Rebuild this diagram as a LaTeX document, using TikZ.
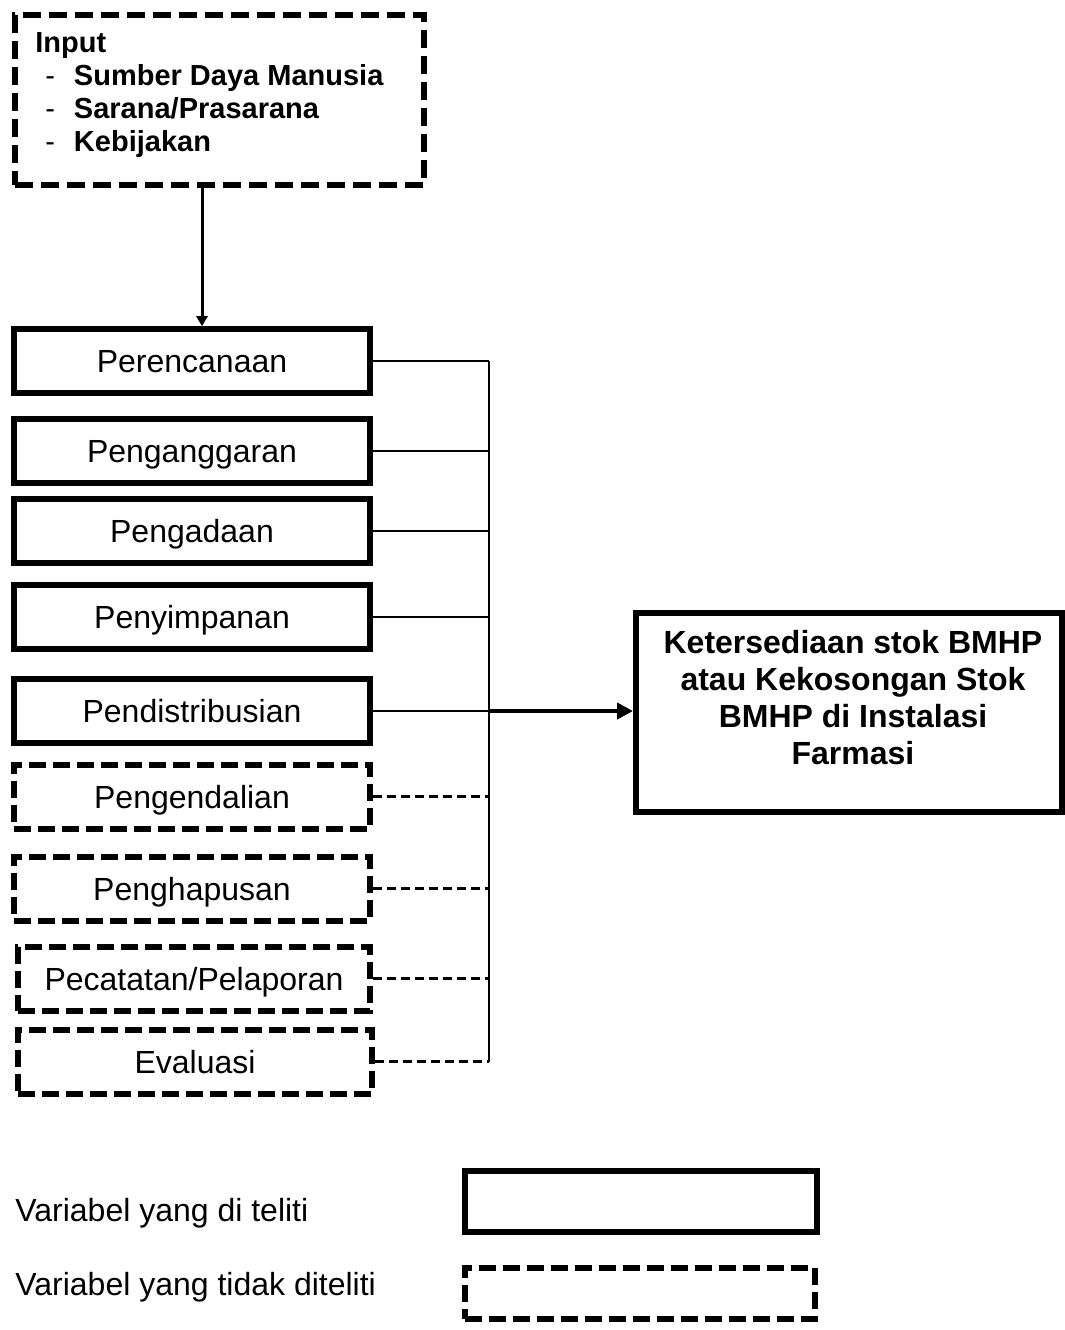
\documentclass[tikz,border=0pt]{standalone}
\usepackage{fontspec}
\setmainfont{Liberation Sans}
\usetikzlibrary{positioning,arrows.meta}

\begin{document}
\begin{tikzpicture}[
            x=0.5pt, y=-0.5pt,
            block/.style={draw, line width=2.8pt, minimum width=178pt, minimum height=32pt, inner sep=0pt,
                          text height=11.5pt, text depth=0pt, font=\fontsize{16}{18}\selectfont},
            dashblock/.style={block, line width=3pt, dash pattern=on 8.5pt off 3.5pt},
            inputbox/.style={draw, line width=3pt, dash pattern=on 9pt off 4pt, minimum width=204.5pt, minimum height=85pt, inner sep=0pt},
            link/.style={line width=1.4pt},
            dashlink/.style={line width=1.5pt, dash pattern=on 4.5pt off 2.5pt},
            arrow/.style={line width=1.5pt, -{Triangle[length=5pt, width=5.5pt]}},
            bigarrow/.style={line width=2.2pt, -{Triangle[length=8pt, width=8pt]}},
            legendtext/.style={anchor=west, inner sep=0pt, text height=11.5pt, text depth=0pt, font=\fontsize{16}{18}\selectfont}
        ]
            \useasboundingbox (0,0) rectangle (1065,1330);

            \node[inputbox] (input) at (219.5,100) {};
            \node[anchor=north west, align=left, inner sep=0pt, font=\bfseries\fontsize{14.5}{16.5}\selectfont] (inputtext) at (35,32)
                {Input\\
                 \hspace*{5pt}\makebox[14.3pt][l]{\mdseries -}Sumber Daya Manusia\\
                 \hspace*{5pt}\makebox[14.3pt][l]{\mdseries -}Sarana/Prasarana\\
                 \hspace*{5pt}\makebox[14.3pt][l]{\mdseries -}Kebijakan};

            \node[block] (perencanaan) at (192,361) {Perencanaan};
            \node[block, below=10.2pt of perencanaan] (penganggaran) {Penganggaran};
            \node[block, below=5.2pt of penganggaran] (pengadaan) {Pengadaan};
            \node[block, below=8.2pt of pengadaan] (penyimpanan) {Penyimpanan};
            \node[block, below=12.2pt of penyimpanan] (pendistribusian) {Pendistribusian};
            \node[dashblock, below=8pt of pendistribusian] (pengendalian) {Pengendalian};
            \node[dashblock, below=11pt of pengendalian] (penghapusan) {Penghapusan};
            \node[dashblock, below=10pt of penghapusan, xshift=1pt, minimum width=176pt] (pencatatan) {Pecatatan/Pelaporan};
            \node[dashblock, below=6.5pt of pencatatan, xshift=0.5pt, minimum width=177pt] (evaluasi) {Evaluasi};

            \node[draw, line width=3pt, minimum width=213pt, minimum height=99.5pt, inner sep=0pt] (hasil) at (849,712.5) {};
            \node[align=center, inner sep=0pt, font=\bfseries\fontsize{16}{18.5}\selectfont] (hasiltext) at (853,698)
                {Ketersediaan stok BMHP\\atau Kekosongan Stok\\BMHP di Instalasi\\Farmasi};

            \coordinate (bus) at (489,0);

            \draw[arrow] ([xshift=-8.75pt]input.south) -- ([xshift=-8.75pt]input.south |- perencanaan.north);

            \draw[link] (perencanaan.east -| bus) -- (evaluasi.east -| bus);
            \draw[link] (perencanaan.east) -- (perencanaan.east -| bus);
            \draw[link] (penganggaran.east) -- (penganggaran.east -| bus);
            \draw[link] (pengadaan.east) -- (pengadaan.east -| bus);
            \draw[link] (penyimpanan.east) -- (penyimpanan.east -| bus);
            \draw[link] (pendistribusian.east) -- (pendistribusian.east -| bus);
            \draw[dashlink] (pengendalian.east) -- (pengendalian.east -| bus);
            \draw[dashlink] (penghapusan.east) -- (penghapusan.east -| bus);
            \draw[dashlink] (pencatatan.east) -- (pencatatan.east -| bus);
            \draw[dashlink] (evaluasi.east) -- (evaluasi.east -| bus);

            \draw[bigarrow] (pendistribusian.east -| bus) -- (pendistribusian.east -| hasil.west);

            % keterangan
            \node[legendtext] (teliti) at (15,1210) {Variabel yang di teliti};
            \node[legendtext] (tidakteliti) at (15,1284) {Variabel yang tidak diteliti};
            \node[block, minimum width=176pt, minimum height=30.5pt] (legsolid) at (641,1201.5) {};
            \node[dashblock, minimum width=175pt, minimum height=25.5pt] (legdash) at (640,1293.5) {};

        \end{tikzpicture}
\end{document}
